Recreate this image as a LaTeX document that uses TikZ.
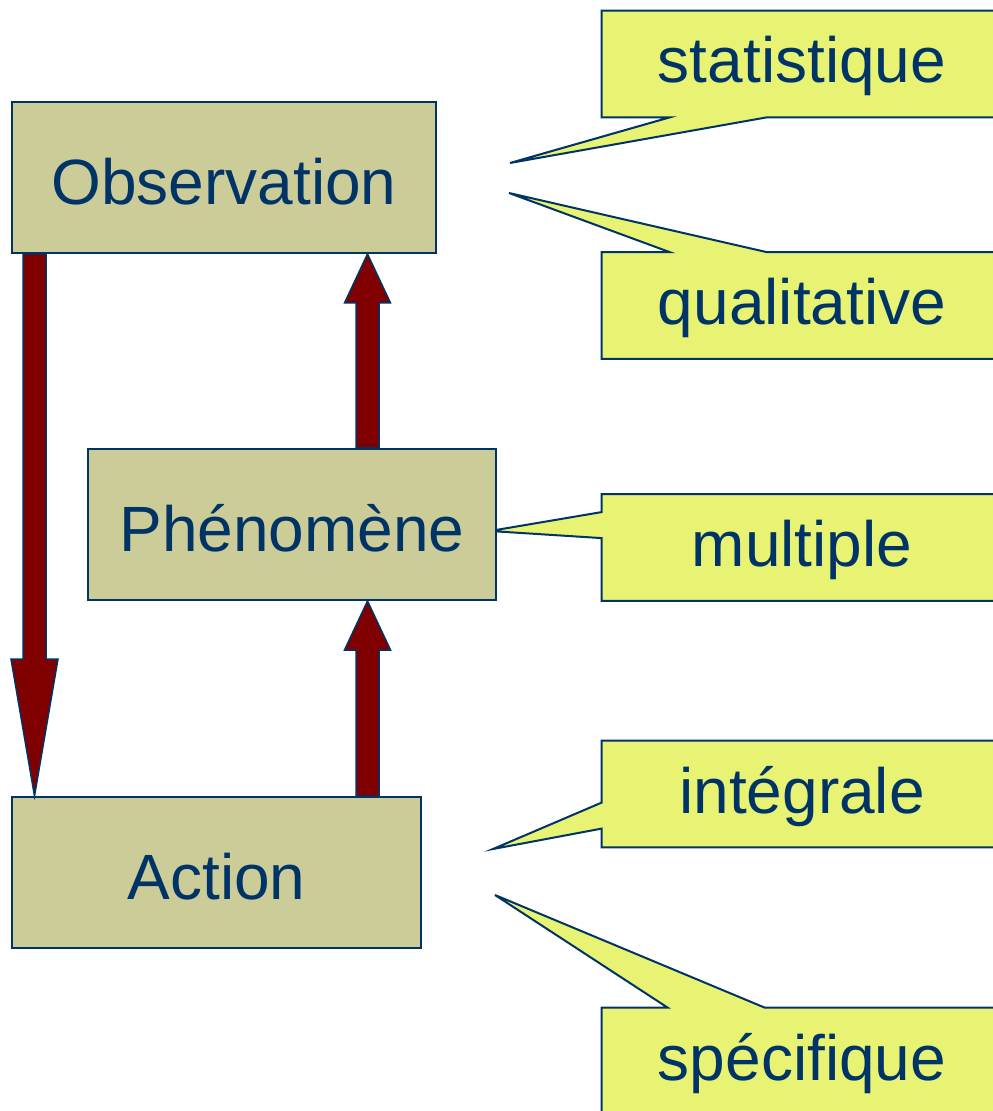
\documentclass[tikz,border=0pt]{standalone}
\usepackage{fontspec}
\setmainfont{Liberation Sans}
\usepackage{tikz}
\usetikzlibrary{calc, backgrounds}

\definecolor{boxfill}{HTML}{CCCC99}
\definecolor{tagfill}{HTML}{E8F373}
\definecolor{navy}{HTML}{003366}
\definecolor{darkred}{HTML}{800000}

\tikzset{
  stage/.style={rectangle, draw=navy, fill=boxfill, line width=1pt, text=navy,
    font=\fontsize{32}{36}\selectfont, minimum height=75.5pt, inner sep=0pt,
    text height=27pt, text depth=0pt},
  tag/.style={rectangle, text=navy, font=\fontsize{32}{36}\selectfont,
    minimum width=200pt, minimum height=53pt, inner sep=0pt,
    text height=25pt, text depth=6pt},
  tagline/.style={draw=navy, fill=tagfill, line width=1pt, line join=miter},
  blockarrow/.style={draw=navy, fill=darkred, line width=0.75pt, line join=miter}
}

\begin{document}
\begin{tikzpicture}[x=0.5pt, y=-0.5pt]
    \useasboundingbox (0,0) rectangle (992,1111);

    % stages
    \node[stage, minimum width=212pt] (obs) at (224,177.5) {Observation};
    \node[stage, minimum width=204pt] (phen) at (292,524.5) {Phénomène};
    \node[stage, minimum width=204.5pt] (act) at (216.5,872.5) {Action};

    % callouts
    \node[tag] (stat) at (802,64) {statistique};
    \node[tag] (qual) at (802,305.5) {qualitative};
    \node[tag] (mult) at (802,547.5) {multiple};
    \node[tag] (integ) at (802,794) {intégrale};
    \node[tag] (spec) at (802,1061) {spécifique};

    \coordinate (stat tip) at (510,163);
    \coordinate (qual tip) at (509,193);
    \coordinate (mult tip) at (490,531);
    \coordinate (integ tip) at (493,849);
    \coordinate (spec tip) at (495,895);

    \begin{scope}[on background layer]
      \draw[tagline] (stat.south west) -- (stat.north west) -- (stat.north east) -- (stat.south east)
        -- ($(stat.south west)+(165,0)$) -- (stat tip) -- ($(stat.south west)+(68,0)$) -- cycle;
      \draw[tagline] (qual.north west) -- ($(qual.north west)+(68,0)$) -- (qual tip)
        -- ($(qual.north west)+(165,0)$) -- (qual.north east) -- (qual.south east) -- (qual.south west) -- cycle;
      \draw[tagline] (mult.north west) -- (mult.north east) -- (mult.south east) -- (mult.south west)
        -- ($(mult.north west)+(0,44)$) -- (mult tip) -- ($(mult.north west)+(0,18)$) -- cycle;
      \draw[tagline] (integ.north west) -- (integ.north east) -- (integ.south east) -- (integ.south west)
        -- ($(integ.north west)+(0,88)$) -- (integ tip) -- ($(integ.north west)+(0,62)$) -- cycle;
      \draw[tagline] (spec.north west) -- ($(spec.north west)+(66,0)$) -- (spec tip)
        -- ($(spec.north west)+(163,0)$) -- (spec.north east) -- (spec.south east) -- (spec.south west) -- cycle;
    \end{scope}

    % down arrow, Observation to Action
    \coordinate (dtop) at ($(obs.south west)+(23.5,0)$);
    \coordinate (dbot) at (dtop |- act.north);
    \draw[blockarrow] ($(dtop)+(-11.5,0)$) -- ($(dtop)+(11.5,0)$) -- ($(dbot)+(11.5,-137)$)
      -- ($(dbot)+(23.5,-137)$) -- (dbot) -- ($(dbot)+(-23.5,-137)$) -- ($(dbot)+(-11.5,-137)$) -- cycle;

    % up arrows
    \coordinate (ux) at ($(obs.south west)+(356.5,0)$);
    \coordinate (u1) at (ux |- phen.north);
    \coordinate (u2) at (ux |- act.north);
    \coordinate (u3) at (ux |- phen.south);
    \draw[blockarrow] ($(u1)+(-11.5,0)$) -- ($(ux)+(-11.5,49)$) -- ($(ux)+(-23,49)$) -- (ux)
      -- ($(ux)+(23,49)$) -- ($(ux)+(11.5,49)$) -- ($(u1)+(11.5,0)$) -- cycle;
    \draw[blockarrow] ($(u2)+(-11.5,0)$) -- ($(u3)+(-11.5,49)$) -- ($(u3)+(-23,49)$) -- (u3)
      -- ($(u3)+(23,49)$) -- ($(u3)+(11.5,49)$) -- ($(u2)+(11.5,0)$) -- cycle;
\end{tikzpicture}
\end{document}
